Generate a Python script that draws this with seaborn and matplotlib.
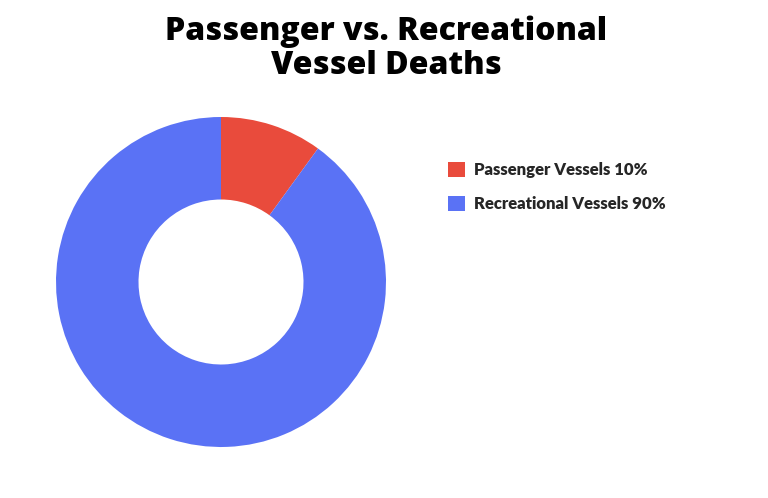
import matplotlib
matplotlib.use("Agg")
import matplotlib.pyplot as plt
import seaborn as sns
from matplotlib.patches import Patch

# data
labels = ["Passenger Vessels", "Recreational Vessels"]
shares = [10, 90]
colors = ["#E94B3C", "#5A72F5"]

sns.set_theme(style="white")
plt.rcParams["font.family"] = ["Lato", "DejaVu Sans"]

fig = plt.figure(figsize=(7.68, 4.98), dpi=100)
fig.patch.set_facecolor("white")

ax = fig.add_axes([56 / 768, 51 / 498, 330 / 768, 330 / 498])
ax.pie(shares, colors=colors, startangle=90, counterclock=False,
       radius=1, wedgeprops=dict(width=0.5, edgecolor="none"))
ax.set_xlim(-1, 1)
ax.set_ylim(-1, 1)
ax.set_aspect("equal")
ax.axis("off")

fig.text(0.503, 0.968, "Passenger vs. Recreational\nVessel Deaths",
         ha="center", va="top", fontsize=23, fontweight="heavy",
         family=["Open Sans", "DejaVu Sans"],
         linespacing=1.05, color="black")

handles = [Patch(facecolor=c, edgecolor="none") for c in colors]
leg_labels = [f"{l} {s}%" for l, s in zip(labels, shares)]
fig.legend(handles, leg_labels, loc="upper left",
           bbox_to_anchor=(433 / 768, 1 - 147 / 498), frameon=False,
           prop=dict(size=12, weight="heavy"), handlelength=1.0,
           handleheight=1.0, handletextpad=0.55, labelspacing=1.05)

fig.savefig("out.png", dpi=100)
